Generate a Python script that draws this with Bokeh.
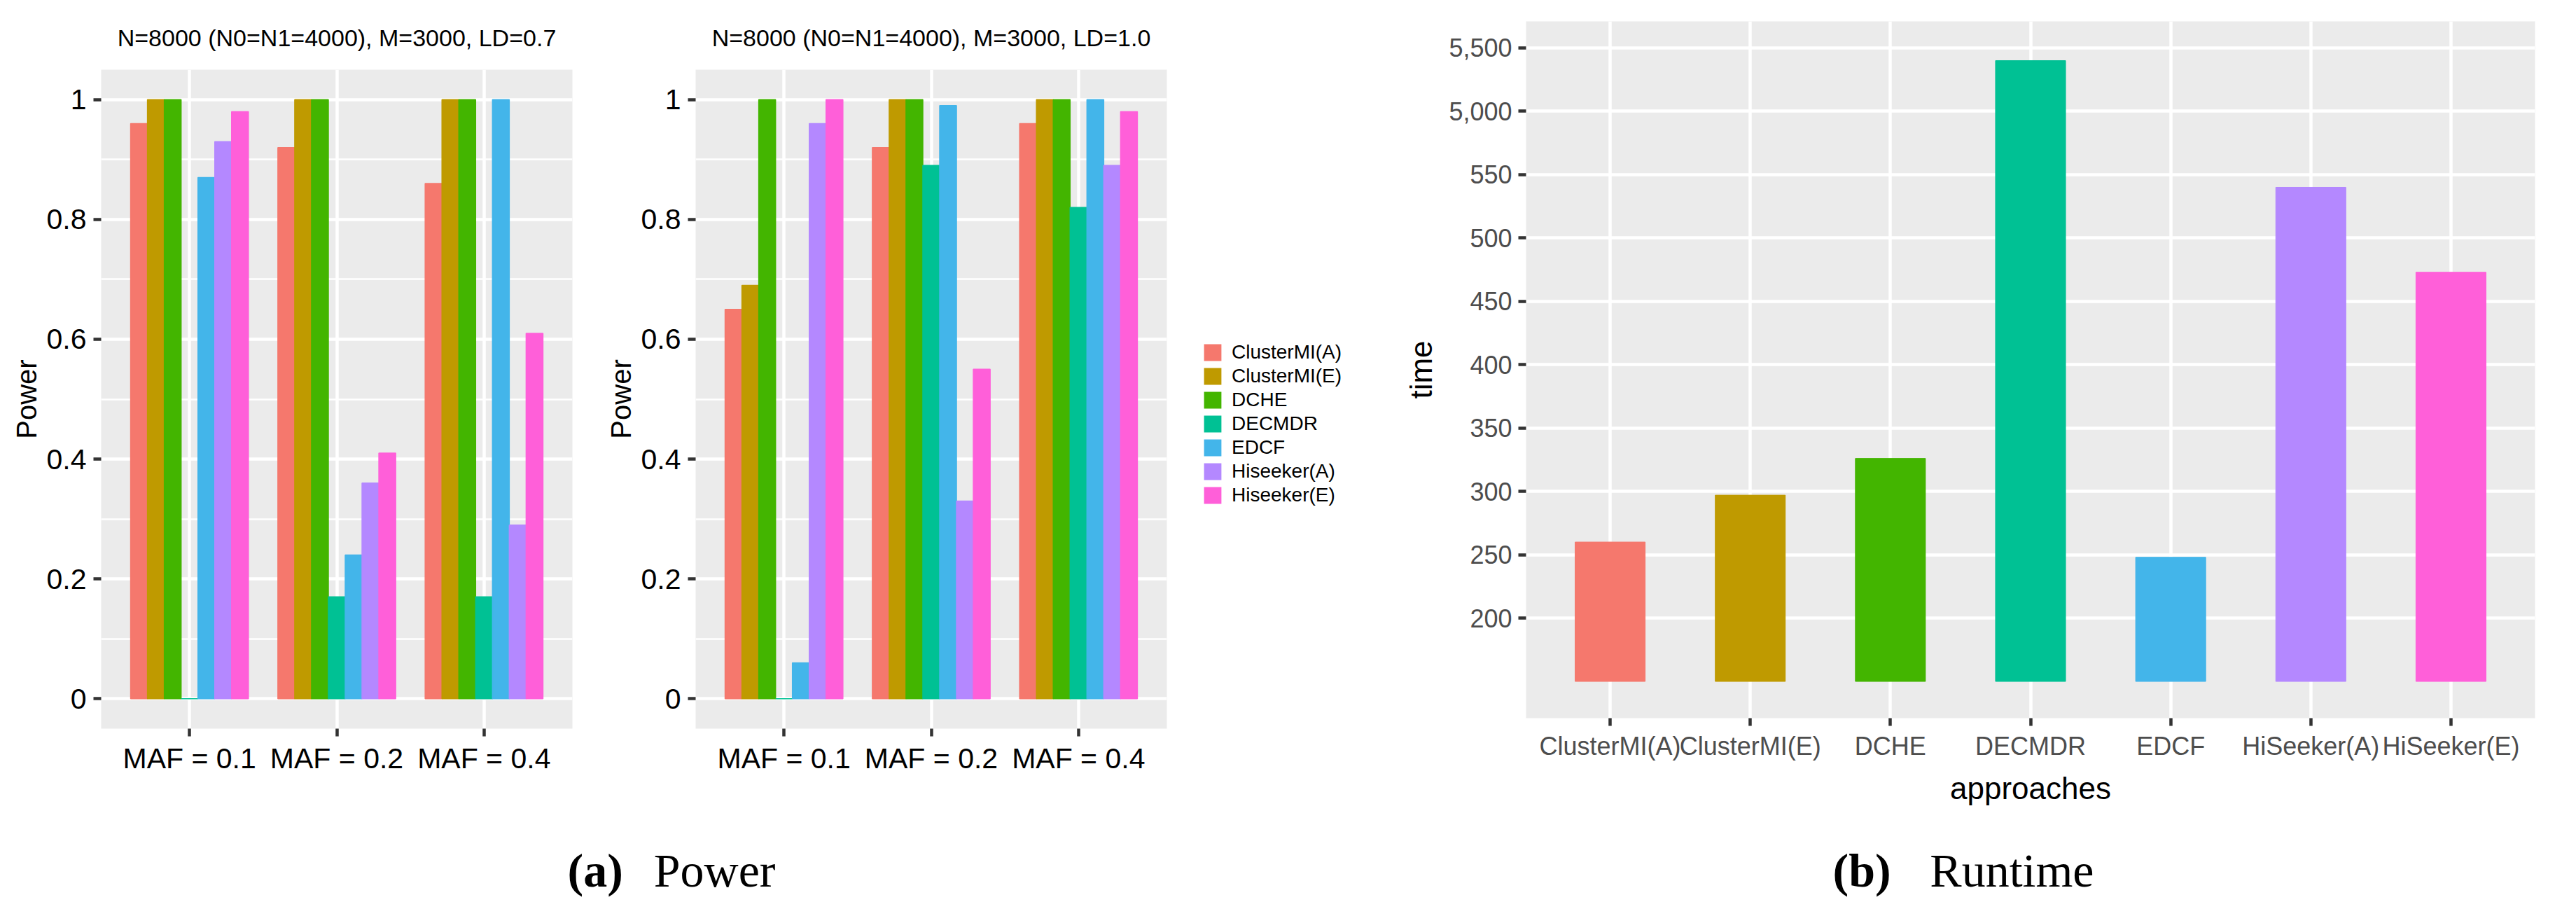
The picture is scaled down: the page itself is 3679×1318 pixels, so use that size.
from bokeh.plotting import figure
from bokeh.layouts import column, row
from bokeh.models import Range1d, FixedTicker, Legend, LegendItem, Label
from bokeh.embed import file_html
from bokeh.resources import INLINE

FONT = 'Liberation Sans'
SERIF = 'Liberation Serif'

# DATA

methods = ['ClusterMI(A)', 'ClusterMI(E)', 'DCHE', 'DECMDR', 'EDCF', 'Hiseeker(A)', 'Hiseeker(E)']
colors = ['#F5786D', '#BF9A00', '#43B500', '#00C194', '#43B5EA', '#B488FF', '#FF5FD9']
maf_labels = ['MAF = 0.1', 'MAF = 0.2', 'MAF = 0.4']

# power of each method (same order as methods), one list per MAF group
power_ld07_maf01 = [0.96, 1.0, 1.0, 0.0, 0.87, 0.93, 0.98]
power_ld07_maf02 = [0.92, 1.0, 1.0, 0.17, 0.24, 0.36, 0.41]
power_ld07_maf04 = [0.86, 1.0, 1.0, 0.17, 1.0, 0.29, 0.61]

power_ld10_maf01 = [0.65, 0.69, 1.0, 0.0, 0.06, 0.96, 1.0]
power_ld10_maf02 = [0.92, 1.0, 1.0, 0.89, 0.99, 0.33, 0.55]
power_ld10_maf04 = [0.96, 1.0, 1.0, 0.82, 1.0, 0.89, 0.98]

power_ticks = [0, 0.2, 0.4, 0.6, 0.8, 1.0]
power_tick_labels = ['0', '0.2', '0.4', '0.6', '0.8', '1']
power_minor = [0.1, 0.3, 0.5, 0.7, 0.9]

runtime_methods = ['ClusterMI(A)', 'ClusterMI(E)', 'DCHE', 'DECMDR', 'EDCF', 'HiSeeker(A)', 'HiSeeker(E)']
runtime = [260, 297, 326, 5400, 248, 540, 473]
runtime_ticks = [200, 250, 300, 350, 400, 450, 500, 550, 600, 650]
runtime_tick_labels = ['200', '250', '300', '350', '400', '450', '500', '550', '5,000', '5,500']
runtime_base = 150

TOP_H = 1152


def style_axes(p, tick_color, tick_size):
    p.background_fill_color = '#EBEBEB'
    p.outline_line_color = None
    p.grid.grid_line_color = 'white'
    p.grid.grid_line_width = 4.5
    p.axis.axis_line_color = None
    p.axis.minor_tick_line_color = None
    p.axis.major_tick_line_color = '#333333'
    p.axis.major_tick_line_width = 4.5
    p.axis.major_tick_in = 0
    p.axis.major_tick_out = 11
    p.axis.major_label_text_font = FONT
    p.axis.major_label_text_font_size = tick_size
    p.axis.major_label_text_color = tick_color
    p.axis.axis_label_text_font = FONT
    p.axis.axis_label_text_font_style = 'normal'
    p.axis.axis_label_text_color = 'black'


def blank_fig(width, height):
    p = figure(
        width=width,
        height=height,
        x_range=Range1d(0, width),
        y_range=Range1d(0, height),
        x_axis_location=None,
        y_axis_location=None,
        min_border=0,
        frame_align=False,
        output_backend='svg',
        toolbar_location=None,
        tools='',
    )
    p.grid.visible = False
    p.outline_line_color = None
    return p


def power_fig(title, groups, width, left, right):
    p = figure(
        title=title,
        width=width,
        height=TOP_H,
        x_range=Range1d(0.4, 3.6),
        y_range=Range1d(-0.05, 1.05),
        y_axis_label='Power',
        min_border_left=left,
        min_border_right=right,
        min_border_top=99,
        min_border_bottom=TOP_H - 1048 + 8,
        frame_align=False,
        output_backend='svg',
        toolbar_location=None,
        tools='',
    )

    bar_w = 0.8 / len(methods)
    for i, m in enumerate(methods):
        xs = [g + 1 + (i - 3) * bar_w for g in range(len(groups))]
        tops = [grp[i] for grp in groups]
        p.vbar(x=xs, top=tops, bottom=0, width=bar_w,
               fill_color=colors[i], line_color=colors[i], line_width=1.5)

    style_axes(p, 'black', '41px')

    p.xaxis.ticker = FixedTicker(ticks=[1, 2, 3])
    p.xaxis.major_label_overrides = dict(zip([1, 2, 3], maf_labels))
    p.xaxis.major_label_standoff = 8
    p.yaxis.ticker = FixedTicker(ticks=power_ticks, minor_ticks=power_minor)
    p.yaxis.major_label_overrides = dict(zip(power_ticks, power_tick_labels))
    p.yaxis.major_label_standoff = 10
    p.yaxis.axis_label_text_font_size = '40px'
    p.yaxis.axis_label_standoff = 4
    p.ygrid.minor_grid_line_color = 'white'
    p.ygrid.minor_grid_line_width = 2.5

    p.title.text_font = FONT
    p.title.text_font_size = '34px'
    p.title.text_font_style = 'normal'
    p.title.text_color = 'black'
    p.title.align = 'center'
    p.title.standoff = 53

    return p


p1 = power_fig('N=8000 (N0=N1=4000), M=3000, LD=0.7',
               [power_ld07_maf01, power_ld07_maf02, power_ld07_maf04],
               width=852, left=144, right=35)
p2 = power_fig('N=8000 (N0=N1=4000), M=3000, LD=1.0',
               [power_ld10_maf01, power_ld10_maf02, power_ld10_maf04],
               width=840, left=141, right=26)

# legend of the power panels, in a narrow figure of its own
# (zero-size bars only carry the colours for the legend keys)
lg = blank_fig(260, TOP_H)
items = []
for i, m in enumerate(methods):
    r = lg.vbar(x=[0], top=[0], bottom=0, width=0, fill_color=colors[i], line_color=None)
    items.append(LegendItem(label=m, renderers=[r]))
leg = Legend(items=items, location=(24, TOP_H + 8 - 731))
leg.label_text_font = FONT
leg.label_text_font_size = '28px'
leg.label_text_color = 'black'
leg.glyph_width = 31
leg.glyph_height = 30
leg.label_height = 30
leg.spacing = 2
leg.padding = 0
leg.margin = 0
leg.label_standoff = 12
leg.border_line_color = None
leg.background_fill_alpha = 0
lg.add_layout(leg, 'center')

# runtime: the axis jumps from 550 to 5,000 (one step = 500 above the break)
shown = [v if v <= 550 else 600 + (v - 5000) / 10 for v in runtime]
xs = list(range(1, len(runtime) + 1))

p3 = figure(
    width=1708,
    height=TOP_H,
    x_range=Range1d(0.4, len(runtime) + 0.6),
    y_range=Range1d(121, 671),
    x_axis_label='approaches',
    y_axis_label='time',
    min_border_left=227,
    min_border_right=40,
    min_border_top=30,
    min_border_bottom=TOP_H - 1036 + 8,
    frame_align=False,
    output_backend='svg',
    toolbar_location=None,
    tools='',
)
p3.vbar(x=xs, top=shown, bottom=runtime_base, width=0.5, color=colors)

style_axes(p3, '#4D4D4D', '36px')
p3.xaxis.ticker = FixedTicker(ticks=xs)
p3.xaxis.major_label_overrides = dict(zip(xs, runtime_methods))
p3.xaxis.major_label_standoff = 8
p3.yaxis.ticker = FixedTicker(ticks=runtime_ticks)
p3.yaxis.major_label_overrides = dict(zip(runtime_ticks, runtime_tick_labels))
p3.yaxis.major_label_standoff = 9
p3.axis.axis_label_text_font_size = '44px'
p3.axis.axis_label_standoff = 12

# sub captions
CAP_H = 150
cap = blank_fig(3663, CAP_H)
for x, txt, style, align in [(810, '(a)', 'bold', 'left'), (1107, 'Power', 'normal', 'right'),
                             (2617, '(b)', 'bold', 'left'), (2990, 'Runtime', 'normal', 'right')]:
    cap.add_layout(Label(x=x, y=CAP_H - 90, text=txt, text_color='black',
                         text_font=SERIF, text_font_size='68px', text_font_style=style,
                         text_align=align, text_baseline='middle'))

layout = column(row(p1, p2, lg, p3), cap)

open("out.html", "w").write(file_html(layout, INLINE))
